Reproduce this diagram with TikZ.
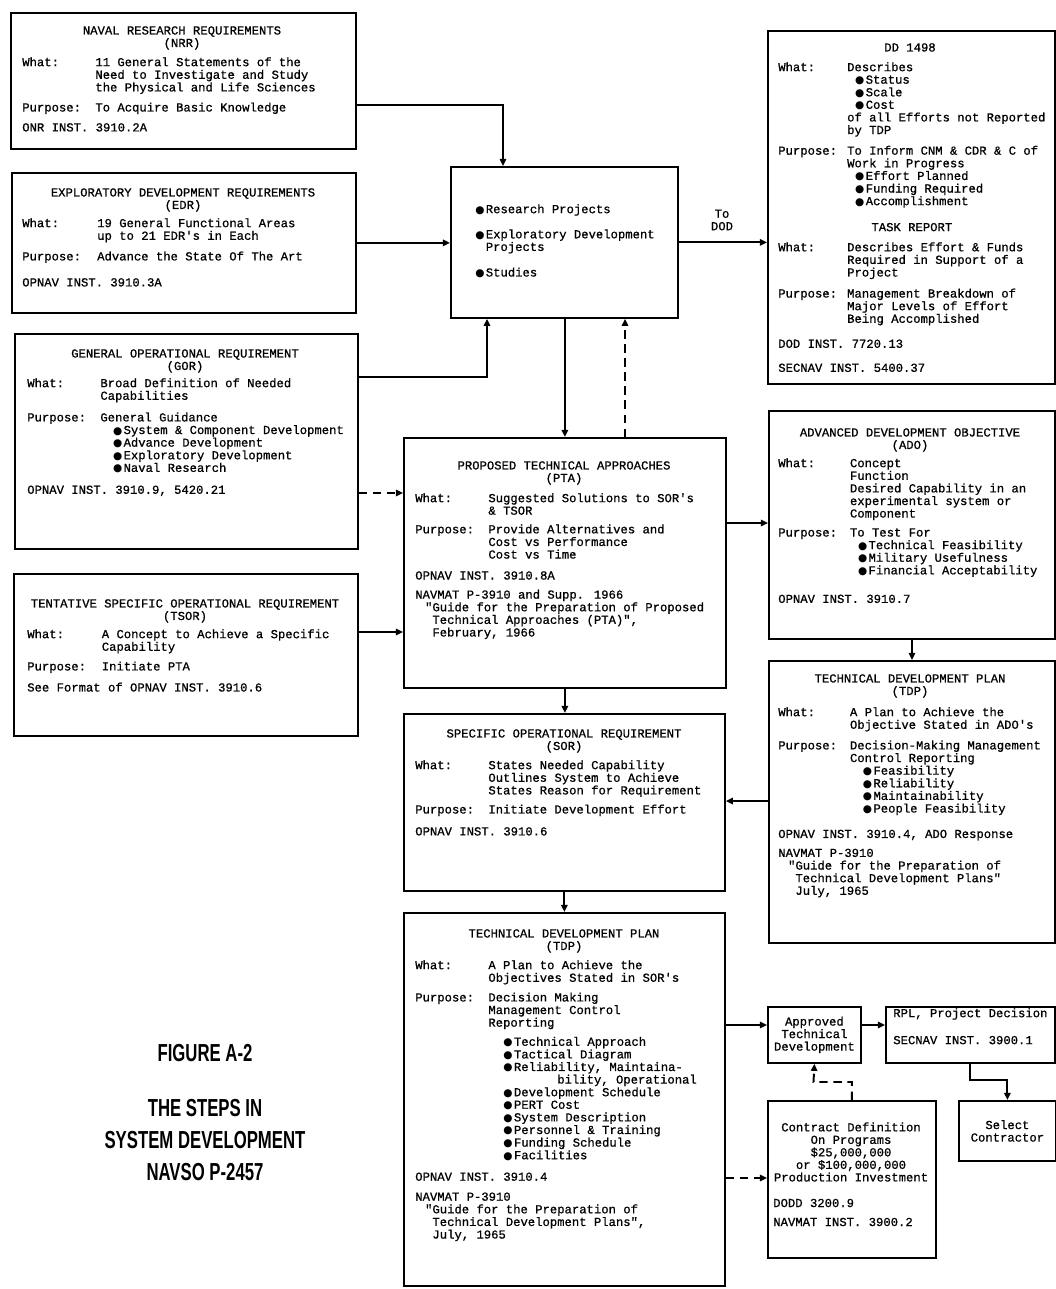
\documentclass[tikz,border=0pt]{standalone}
\usepackage{fontspec}
\usetikzlibrary{arrows.meta,calc}
\newfontfamily\tw{Liberation Mono}[FakeBold=0.8]
\newfontfamily\dvs{DejaVu Sans}
\newfontfamily\condsans{Liberation Sans}[FakeStretch=0.68]
\newcommand{\tf}{\tw\fontsize{8.7}{8.9}\selectfont\setbox\strutbox\hbox{\vrule height 6.23pt depth 2.67pt width 0pt}}
\newcommand{\bul}{\makebox[7.5pt][l]{\dvs\fontsize{7.5}{7.5}\selectfont ●}}
\newcommand{\bi}[1]{\hspace*{#1}\bul}
\newcommand{\onecol}[1]{\multicolumn{2}{@{}l@{}}{#1}}
\tikzset{
  x=0.025cm, y=-0.025cm,
  bx/.style 2 args={draw, line width=1.3pt, inner sep=0pt, minimum width=#1*0.025cm, minimum height=#2*0.025cm, anchor=north west},
  ttl/.style={font=\tf, align=center, inner sep=0pt, anchor=north},
  bod/.style={font=\tf, inner sep=0pt, anchor=north west},
  ctxt/.style={font=\tf, align=center, inner sep=0pt},
  fig/.style={font=\condsans\bfseries\fontsize{17.5}{17.5}\selectfont, inner sep=0pt},
  arr/.style={line width=1.4pt, -{Triangle[length=5pt,width=4.5pt]}},
  darr/.style={arr, dash pattern=on 6pt off 4pt},
}
\begin{document}
\begin{tikzpicture}
\useasboundingbox (0,0) rectangle (1056,1289);

% ---------------- NRR
\node[bx={345}{136}] (nrr) at (10,12) {};
\node[ttl] (nrrT) at (182,26) {NAVAL RESEARCH REQUIREMENTS\\(NRR)};
\node[bod] (nrrB) at (22,57) {\begin{tabular}{@{}p{52pt}@{}l@{}}
What: & 11 General Statements of the\\
 & Need to Investigate and Study\\
 & the Physical and Life Sciences\\[5.3pt]
Purpose: & To Acquire Basic Knowledge\\[5.3pt]
\onecol{ONR INST. 3910.2A}
\end{tabular}};

% ---------------- EDR
\node[bx={344}{140}] (edr) at (11,172) {};
\node[ttl] (edrT) at (183,188) {EXPLORATORY DEVELOPMENT REQUIREMENTS\\(EDR)};
\node[bod] (edrB) at (22,218) {\begin{tabular}{@{}p{53.3pt}@{}l@{}}
What: & 19 General Functional Areas\\
 & up to 21 EDR's in Each\\[5.7pt]
Purpose: & Advance the State Of The Art\\[9.6pt]
\onecol{OPNAV INST. 3910.3A}
\end{tabular}};

% ---------------- GOR
\node[bx={343}{215}] (gor) at (14,333) {};
\node[ttl] (gorT) at (185,349) {GENERAL OPERATIONAL REQUIREMENT\\(GOR)};
\node[bod] (gorB) at (27,378) {\begin{tabular}{@{}p{52pt}@{}l@{}}
What: & Broad Definition of Needed\\
 & Capabilities\\[6.4pt]
Purpose: & General Guidance\\
 & \bi{9pt}System \& Component Development\\
 & \bi{9pt}Advance Development\\
 & \bi{9pt}Exploratory Development\\
 & \bi{9pt}Naval Research\\[6.7pt]
\onecol{OPNAV INST. 3910.9, 5420.21}
\end{tabular}};

% ---------------- TSOR
\node[bx={344}{162}] (tsor) at (13,573) {};
\node[ttl] (tsorT) at (185,599) {TENTATIVE SPECIFIC OPERATIONAL REQUIREMENT\\(TSOR)};
\node[bod] (tsorB) at (27,629) {\begin{tabular}{@{}p{53pt}@{}l@{}}
What: & A Concept to Achieve a Specific\\
 & Capability\\[5pt]
Purpose: & Initiate PTA\\[6pt]
\onecol{See Format of OPNAV INST. 3910.6}
\end{tabular}};

% ---------------- Center (projects)
\node[bx={227}{151}] (ctr) at (450,166) {};
\node[bod] (ctrB) at (475,204) {\begin{tabular}{@{}l@{}}
\bul Research Projects\\[8.9pt]
\bul Exploratory Development\\
\phantom{\bul}Projects\\[9.2pt]
\bul Studies
\end{tabular}};

% ---------------- DD 1498
\node[bx={287}{353}] (dd) at (767,30) {};
\node[ttl] (ddT) at (910,43) {DD 1498};
\node[bod] (ddB) at (778,62) {\begin{tabular}{@{}p{49pt}@{}l@{}}
What: & Describes\\
 & \bi{5.7pt}Status\\
 & \bi{5.7pt}Scale\\
 & \bi{5.7pt}Cost\\
 & of all Efforts not Reported\\
 & by TDP\\[5.7pt]
Purpose: & To Inform CNM \& CDR \& C of\\
 & Work in Progress\\
 & \bi{5.7pt}Effort Planned\\
 & \bi{5.7pt}Funding Required\\
 & \bi{5.7pt}Accomplishment\\[9.6pt]
\multicolumn{2}{c}{TASK REPORT}\\[5.3pt]
What: & Describes Effort \& Funds\\
 & Required in Support of a\\
 & Project\\[6pt]
Purpose: & Management Breakdown of\\
 & Major Levels of Effort\\
 & Being Accomplished\\[8.9pt]
\onecol{DOD INST. 7720.13}\\[8.2pt]
\onecol{SECNAV INST. 5400.37}
\end{tabular}};

% ---------------- ADO
\node[bx={286}{228}] (ado) at (768,410) {};
\node[ttl] (adoT) at (910,428) {ADVANCED DEVELOPMENT OBJECTIVE\\(ADO)};
\node[bod] (adoB) at (778,458) {\begin{tabular}{@{}p{51pt}@{}l@{}}
What: & Concept\\
 & Function\\
 & Desired Capability in an\\
 & experimental system or\\
 & Component\\[4.6pt]
Purpose: & To Test For\\
 & \bi{5.7pt}Technical Feasibility\\
 & \bi{5.7pt}Military Usefulness\\
 & \bi{5.7pt}Financial Acceptability\\[11.4pt]
\onecol{OPNAV INST. 3910.7}
\end{tabular}};

% ---------------- TDP (right)
\node[bx={286}{282}] (tdpr) at (768,660) {};
\node[ttl] (tdprT) at (910,674) {TECHNICAL DEVELOPMENT PLAN\\(TDP)};
\node[bod] (tdprB) at (778,707) {\begin{tabular}{@{}p{51pt}@{}l@{}}
What: & A Plan to Achieve the\\
 & Objective Stated in ADO's\\[5.7pt]
Purpose: & Decision-Making Management\\
 & Control Reporting\\
 & \bi{9.2pt}Feasibility\\
 & \bi{9.2pt}Reliability\\
 & \bi{9.2pt}Maintainability\\
 & \bi{9.2pt}People Feasibility\\[9.2pt]
\onecol{OPNAV INST. 3910.4, ADO Response}\\[4.6pt]
\onecol{NAVMAT P-3910}\\
\onecol{\hspace*{7pt}"Guide for the Preparation of}\\
\onecol{\hspace*{12.2pt}Technical Development Plans"}\\
\onecol{\hspace*{12.2pt}July, 1965}
\end{tabular}};

% ---------------- PTA
\node[bx={322}{250}] (pta) at (403,437) {};
\node[ttl] (ptaT) at (564,461) {PROPOSED TECHNICAL APPROACHES\\(PTA)};
\node[bod] (ptaB) at (415,493) {\begin{tabular}{@{}p{52pt}@{}l@{}}
What: & Suggested Solutions to SOR's\\
 & \& TSOR\\[4.3pt]
Purpose: & Provide Alternatives and\\
 & Cost vs Performance\\
 & Cost vs Time\\[6pt]
\onecol{OPNAV INST. 3910.8A}\\[4.6pt]
\onecol{NAVMAT P-3910 and Supp. 1966}\\
\onecol{\hspace*{7pt}"Guide for the Preparation of Proposed}\\
\onecol{\hspace*{12.2pt}Technical Approaches (PTA)",}\\
\onecol{\hspace*{12.2pt}February, 1966}
\end{tabular}};

% ---------------- SOR
\node[bx={321}{177}] (sor) at (403,713) {};
\node[ttl] (sorT) at (564,729) {SPECIFIC OPERATIONAL REQUIREMENT\\(SOR)};
\node[bod] (sorB) at (415,760) {\begin{tabular}{@{}p{52pt}@{}l@{}}
What: & States Needed Capability\\
 & Outlines System to Achieve\\
 & States Reason for Requirement\\[4.6pt]
Purpose: & Initiate Development Effort\\[6.7pt]
\onecol{OPNAV INST. 3910.6}
\end{tabular}};

% ---------------- TDP (center)
\node[bx={321}{373}] (tdpc) at (403,912) {};
\node[ttl] (tdpcT) at (564,929) {TECHNICAL DEVELOPMENT PLAN\\(TDP)};
\node[bod] (tdpcB) at (415,960) {\begin{tabular}{@{}p{52pt}@{}l@{}}
What: & A Plan to Achieve the\\
 & Objectives Stated in SOR's\\[5pt]
Purpose: & Decision Making\\
 & Management Control\\
 & Reporting\\[4.6pt]
 & \bi{10.7pt}Technical Approach\\
 & \bi{10.7pt}Tactical Diagram\\
 & \bi{10.7pt}Reliability, Maintaina-\\
 & \hspace*{49pt}bility, Operational\\
 & \bi{10.7pt}Development Schedule\\
 & \bi{10.7pt}PERT Cost\\
 & \bi{10.7pt}System Description\\
 & \bi{10.7pt}Personnel \& Training\\
 & \bi{10.7pt}Funding Schedule\\
 & \bi{10.7pt}Facilities\\[6.4pt]
\onecol{OPNAV INST. 3910.4}\\[5.3pt]
\onecol{NAVMAT P-3910}\\
\onecol{\hspace*{7pt}"Guide for the Preparation of}\\
\onecol{\hspace*{12.2pt}Technical Development Plans",}\\
\onecol{\hspace*{12.2pt}July, 1965}
\end{tabular}};

% ---------------- small boxes
\node[bx={93}{56}] (appr) at (767,1006) {};
\node[ctxt] (apprT) at (appr.center) {Approved\\Technical\\Development};
\node[bx={169}{56}] (rpl) at (885,1006) {};
\node[bod] (rplB) at (893,1008) {\begin{tabular}{@{}l@{}}
RPL, Project Decision\\[10.3pt]
SECNAV INST. 3900.1
\end{tabular}};
\node[bx={97}{60}] (sel) at (958,1100) {};
\node[ctxt] (selT) at (sel.center) {Select\\Contractor};
\node[bx={168}{157}] (con) at (767,1100) {};
\node[ctxt] (conT) at (851,1152) {Contract Definition\\On Programs\\\$25,000,000\\or \$100,000,000\\Production Investment};
\node[bod] (conB) at (773,1198) {\begin{tabular}{@{}l@{}}
DODD 3200.9\\[4.6pt]
NAVMAT INST. 3900.2
\end{tabular}};

% ---------------- figure caption
\node[fig] (f1) at (205,1053) {FIGURE A-2};
\node[fig] (f2) at (205,1108) {THE STEPS IN};
\node[fig] (f3) at (205,1140) {SYSTEM DEVELOPMENT};
\node[fig] (f4) at (205,1172) {NAVSO P-2457};

% ---------------- connectors
\coordinate (k1) at (503,105);
\draw[arr] (k1 -| nrr.east) -| (ctr.north -| k1);
\draw[arr] (edr.east) -- (edr.east -| ctr.west);
\coordinate (k3) at (487,377);
\draw[arr] (k3 -| gor.east) -| (ctr.south -| k3);
\draw[arr] (pta.north |- ctr.south) -- (pta.north);
\coordinate (k5) at (625,0);
\draw[darr] (pta.north -| k5) -- (ctr.south -| k5);
\draw[arr] (ctr.east) -- (ctr.east -| dd.west);
\node[ctxt] (todod) at (722,220) {To\\DOD};
\coordinate (k6) at (0,493);
\draw[darr] (k6 -| gor.east) -- (k6 -| pta.west);
\coordinate (k7) at (0,632);
\draw[arr] (k7 -| tsor.east) -- (k7 -| pta.west);
\coordinate (k8) at (0,523);
\draw[arr] (k8 -| pta.east) -- (k8 -| ado.west);
\coordinate (k9) at (912,0);
\draw[arr] (ado.south -| k9) -- (tdpr.north -| k9);
\coordinate (k10) at (0,801);
\draw[arr] (k10 -| tdpr.west) -- (k10 -| sor.east);
\draw[arr] (pta.south) -- (pta.south |- sor.north);
\draw[arr] (sor.south) -- (sor.south |- tdpc.north);
\coordinate (k11) at (0,1025);
\draw[arr] (k11 -| tdpc.east) -- (k11 -| appr.west);
\draw[arr] (k11 -| appr.east) -- (k11 -| rpl.west);
\coordinate (k12) at (970,1080);
\draw[arr] (rpl.south -| k12) -- (k12) -| (sel.north);
\coordinate (k13) at (813.5,1082);
\draw[darr] (con.north) |- (k13) -- (appr.south);
\coordinate (k14) at (0,1178);
\draw[darr] (k14 -| tdpc.east) -- (k14 -| con.west);
\end{tikzpicture}
\end{document}
